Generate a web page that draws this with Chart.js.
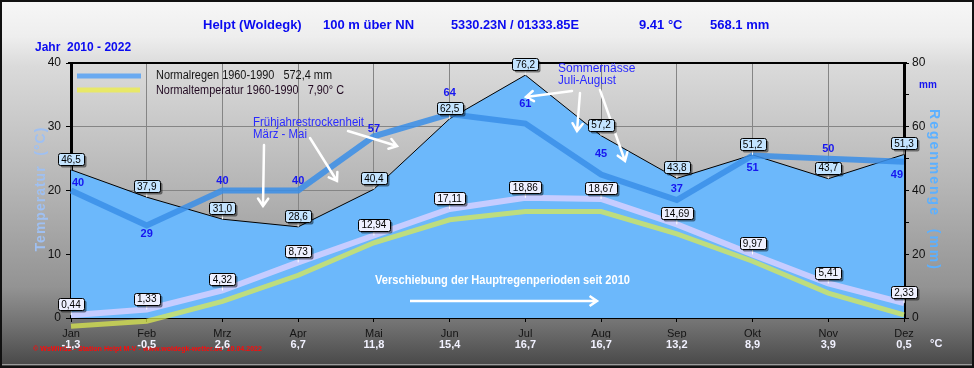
<!DOCTYPE html>
<html>
<head>
<meta charset="utf-8">
<script src="https://cdn.jsdelivr.net/npm/chart.js@4.4.1/dist/chart.umd.min.js"></script>
<style>
  html, body { margin: 0; padding: 0; background: #fff; }
  #c { display: block; }
</style>
</head>
<body>
<canvas id="c" width="974" height="368"></canvas>
<script>
const months = ["Jan", "Feb", "Mrz", "Apr", "Mai", "Jun", "Jul", "Aug", "Sep", "Okt", "Nov", "Dez"];
// Niederschlag 2010-2022 (mm)
const rain = [46.5, 37.9, 31.0, 28.6, 40.4, 62.5, 76.2, 57.2, 43.8, 51.2, 43.7, 51.3];
// Normalregen 1960-1990 (mm)
const rainNormal = [40, 29, 40, 40, 57, 64, 61, 45, 37, 51, 50, 49];
// Temperatur 2010-2022 (°C)
const temp = [0.44, 1.33, 4.32, 8.73, 12.94, 17.11, 18.86, 18.67, 14.69, 9.97, 5.41, 2.33];
// Normaltemperatur 1960-1990 (°C)
const tempNormal = [-1.3, -0.5, 2.6, 6.7, 11.8, 15.4, 16.7, 16.7, 13.2, 8.9, 3.9, 0.5];
const tempTicks = [0, 10, 20, 30, 40];
const rainTicks = [0, 20, 40, 60, 80];

// where the blue normal-rain numbers sit relative to their point (px)
const normLabelDy = [-8, 8, -10, -10, -7, -21, -20, -21, -11, 13, -10, 13];

const FONT = '"Liberation Sans", Arial, sans-serif';

function fmt(v, d) {
  return v.toFixed(d).replace(".", ",");
}

function arrow(ctx, x1, y1, x2, y2) {
  const a = Math.atan2(y2 - y1, x2 - x1);
  const h = 9;
  ctx.beginPath();
  ctx.moveTo(x1, y1);
  ctx.lineTo(x2, y2);
  ctx.moveTo(x2 - h * Math.cos(a - 0.6), y2 - h * Math.sin(a - 0.6));
  ctx.lineTo(x2, y2);
  ctx.lineTo(x2 - h * Math.cos(a + 0.6), y2 - h * Math.sin(a + 0.6));
  ctx.stroke();
}

function box(ctx, x, y, text, fill) {
  ctx.font = "10px " + FONT;
  const w = Math.round(ctx.measureText(text).width) + 7;
  const h = 12;
  const cy = y - 11;
  // white connector
  ctx.strokeStyle = "#ffffff";
  ctx.lineWidth = 1;
  ctx.beginPath();
  ctx.moveTo(x, cy + h / 2);
  ctx.lineTo(x, y);
  ctx.stroke();
  const bx = Math.round(x - w / 2) + 0.5;
  const by = Math.round(cy - h / 2) + 0.5;
  ctx.save();
  ctx.shadowColor = "rgba(0,0,0,0.45)";
  ctx.shadowOffsetX = 2;
  ctx.shadowOffsetY = 2;
  ctx.fillStyle = fill;
  ctx.beginPath();
  ctx.roundRect(bx, by, w, h, 2);
  ctx.fill();
  ctx.restore();
  ctx.strokeStyle = "#000";
  ctx.beginPath();
  ctx.roundRect(bx, by, w, h, 2);
  ctx.stroke();
  ctx.fillStyle = "#000";
  ctx.textAlign = "center";
  ctx.textBaseline = "middle";
  ctx.fillText(text, x, cy + 1);
}

const decoPlugin = {
  id: "deco",
  beforeDraw(chart) {
    const ctx = chart.ctx;
    const W = chart.width, H = chart.height;
    ctx.save();
    const g = ctx.createLinearGradient(0, 0, 0, H);
    g.addColorStop(0, "#f7f7f7");
    g.addColorStop(0.1, "#eeeeee");
    g.addColorStop(0.18, "#dadada");
    g.addColorStop(0.5, "#b6b6b6");
    g.addColorStop(0.78, "#939393");
    g.addColorStop(0.88, "#727272");
    g.addColorStop(1, "#464646");
    ctx.fillStyle = g;
    ctx.fillRect(0, 0, W, H);
    ctx.strokeStyle = "#9a9a9a";
    ctx.lineWidth = 1;
    ctx.beginPath();
    ctx.moveTo(2, H - 3.5);
    ctx.lineTo(W - 2, H - 3.5);
    ctx.stroke();
    ctx.strokeStyle = "#111";
    ctx.lineWidth = 2;
    ctx.strokeRect(1, 1, W - 2, H - 2);

    // header
    ctx.fillStyle = "#0a0af0";
    ctx.font = "bold 13px " + FONT;
    ctx.textBaseline = "middle";
    ctx.textAlign = "left";
    ctx.fillText("Helpt (Woldegk)", 203, 25, 100);
    ctx.fillText("100 m über NN", 323, 25, 92);
    ctx.fillText("5330.23N / 01333.85E", 451, 25, 128);
    ctx.fillText("9.41 °C", 639, 25, 45);
    ctx.fillText("568.1 mm", 710, 25, 60);
    ctx.font = "bold 12px " + FONT;
    ctx.fillText("Jahr  2010 - 2022", 35, 48, 98);

    // axis titles
    ctx.font = "bold 14px " + FONT;
    ctx.letterSpacing = "1px";
    ctx.fillStyle = "#9fc0f2";
    ctx.save();
    ctx.translate(41, 189);
    ctx.rotate(-Math.PI / 2);
    ctx.textAlign = "center";
    ctx.fillText("Temperatur  (°C)", 0, 0);
    ctx.restore();
    ctx.letterSpacing = "2px";
    ctx.fillStyle = "#5cb0ff";
    ctx.save();
    ctx.translate(934, 190);
    ctx.rotate(Math.PI / 2);
    ctx.textAlign = "center";
    ctx.fillText("Regenmenge  (mm)", 0, 0);
    ctx.restore();
    ctx.letterSpacing = "0px";

    ctx.fillStyle = "#1414f0";
    ctx.font = "bold 10px " + FONT;
    ctx.textAlign = "left";
    ctx.fillText("mm", 919, 85);
    ctx.fillStyle = "#f0f0ff";
    ctx.font = "bold 11px " + FONT;
    ctx.fillText("°C", 930, 344);

    ctx.fillStyle = "#ff0a0a";
    ctx.font = "bold 8px " + FONT;
    ctx.fillText("© WsWin32 - Station Helpt M-V - www.woldegk-wetter.de  10.04.2022", 33, 349, 229);
    ctx.restore();
  },
  beforeDatasetsDraw(chart) {
    const ctx = chart.ctx;
    const a = chart.chartArea;
    ctx.save();
    ctx.strokeStyle = "#000";
    ctx.lineWidth = 2;
    ctx.beginPath();
    ctx.moveTo(a.left - 3, a.top);
    ctx.lineTo(a.right + 3, a.top);
    ctx.stroke();
    ctx.restore();
  },
  afterDatasetsDraw(chart) {
    const ctx = chart.ctx;
    const a = chart.chartArea;
    ctx.save();

    // legend
    ctx.lineWidth = 5;
    ctx.strokeStyle = "#6aaaf0";
    ctx.beginPath();
    ctx.moveTo(77, 76);
    ctx.lineTo(141, 76);
    ctx.stroke();
    ctx.strokeStyle = "#e8e868";
    ctx.beginPath();
    ctx.moveTo(77, 90);
    ctx.lineTo(140, 90);
    ctx.stroke();
    ctx.font = "12px " + FONT;
    ctx.textAlign = "left";
    ctx.textBaseline = "middle";
    ctx.fillStyle = "#151515";
    ctx.fillText("Normalregen 1960-1990   572,4 mm", 156, 76, 176);
    ctx.fillStyle = "#220a22";
    ctx.fillText("Normaltemperatur 1960-1990   7,90° C", 156, 91, 188);

    // notes
    ctx.fillStyle = "#2a2aff";
    ctx.fillText("Frühjahrestrockenheit", 253, 123, 111);
    ctx.fillText("März - Mai", 253, 135, 54);
    ctx.fillText("Sommernässe", 558, 69, 100);
    ctx.fillText("Juli-August", 558, 81, 58);
    ctx.fillStyle = "#ffffff";
    ctx.font = "bold 12px " + FONT;
    ctx.fillText("Verschiebung der Hauptregenperioden seit 2010", 375, 281, 255);

    ctx.strokeStyle = "#ffffff";
    ctx.lineWidth = 2.5;
    ctx.lineCap = "round";
    arrow(ctx, 264, 145, 263, 206);
    arrow(ctx, 310, 138, 337, 181);
    arrow(ctx, 348, 131, 397, 146);
    arrow(ctx, 572, 91, 526, 97);
    arrow(ctx, 580, 93, 577, 131);
    arrow(ctx, 600, 90, 625, 161);
    ctx.lineCap = "butt";
    arrow(ctx, 410, 301, 597, 301);

    // value boxes
    chart.getDatasetMeta(0).data.forEach((p, i) => box(ctx, p.x, p.y, fmt(rain[i], 1), "#c4e4ff"));
    chart.getDatasetMeta(2).data.forEach((p, i) => box(ctx, p.x, p.y, fmt(temp[i], 2), "#eef0ff"));

    // normal rain numbers
    ctx.font = "bold 11px " + FONT;
    ctx.fillStyle = "#1616f0";
    ctx.textAlign = "center";
    ctx.textBaseline = "middle";
    chart.getDatasetMeta(1).data.forEach((p, i) => {
      const t = String(rainNormal[i]);
      const hw = ctx.measureText(t).width / 2;
      const x = Math.min(Math.max(p.x, a.left + hw + 1), a.right - hw - 1);
      ctx.fillText(t, x, p.y + normLabelDy[i]);
    });
    ctx.restore();
  }
};

new Chart(document.getElementById("c"), {
  type: "line",
  data: {
    labels: months,
    datasets: [
      {
        label: "Niederschlag 2010-2022",
        data: rain,
        yAxisID: "y2",
        fill: "origin",
        backgroundColor: "#6cb8fb",
        borderColor: "#000",
        borderWidth: 1,
        pointRadius: 0,
        order: 4
      },
      {
        label: "Normalregen 1960-1990",
        data: rainNormal,
        yAxisID: "y2",
        borderColor: "rgba(58,142,232,0.85)",
        borderWidth: 6,
        pointRadius: 0,
        order: 3
      },
      {
        label: "Temperatur 2010-2022",
        data: temp,
        yAxisID: "y",
        borderColor: "#c6ccff",
        borderWidth: 6,
        pointRadius: 0,
        order: 2
      },
      {
        label: "Normaltemperatur 1960-1990",
        data: tempNormal,
        yAxisID: "y",
        borderColor: "rgba(222,236,78,0.72)",
        borderWidth: 5,
        pointRadius: 0,
        clip: false,
        order: 1
      }
    ]
  },
  options: {
    responsive: false,
    animation: false,
    devicePixelRatio: 1,
    layout: { padding: { top: 63, left: 0, right: 0, bottom: 14 } },
    plugins: {
      legend: { display: false },
      tooltip: { enabled: false }
    },
    scales: {
      x: {
        type: "category",
        offset: false,
        weight: 0,
        afterFit: (s) => { s.height = 20; },
        grid: {
          color: "#858585",
          borderDash: [3, 3],
          tickBorderDash: [],
          tickColor: "#000",
          tickLength: 4
        },
        border: { color: "#000", width: 2 },
        ticks: {
          autoSkip: false,
          maxRotation: 0,
          padding: 5,
          color: "#151515",
          font: { family: FONT, size: 11 }
        }
      },
      x2: {
        type: "category",
        labels: tempNormal.map((v) => fmt(v, 1)),
        position: "bottom",
        offset: false,
        weight: 1,
        afterFit: (s) => { s.height = 16; },
        grid: { display: false, drawTicks: false },
        border: { display: false },
        ticks: {
          autoSkip: false,
          maxRotation: 0,
          padding: 0,
          color: "#f2f2ff",
          font: { family: FONT, size: 11, weight: "bold" }
        }
      },
      y: {
        position: "left",
        min: 0,
        max: 40,
        afterFit: (s) => { s.width = 71; },
        afterBuildTicks: (s) => { s.ticks = tempTicks.map((v) => ({ value: v })); },
        grid: {
          color: "#858585",
          borderDash: [3, 3],
          tickBorderDash: [],
          tickColor: "#000",
          tickLength: 5
        },
        border: { color: "#000", width: 3 },
        ticks: {
          padding: 5,
          color: "#111",
          font: { family: FONT, size: 12 }
        }
      },
      y2: {
        position: "right",
        min: 0,
        max: 80,
        afterFit: (s) => { s.width = 70; },
        grid: { drawOnChartArea: false, tickColor: "#000", tickLength: 5 },
        border: { color: "#000", width: 3 },
        ticks: {
          stepSize: 10,
          padding: 3,
          color: "#111",
          font: { family: FONT, size: 12 },
          callback: (v) => (rainTicks.includes(v) ? v : "")
        }
      }
    }
  },
  plugins: [decoPlugin]
});
</script>
</body>
</html>
